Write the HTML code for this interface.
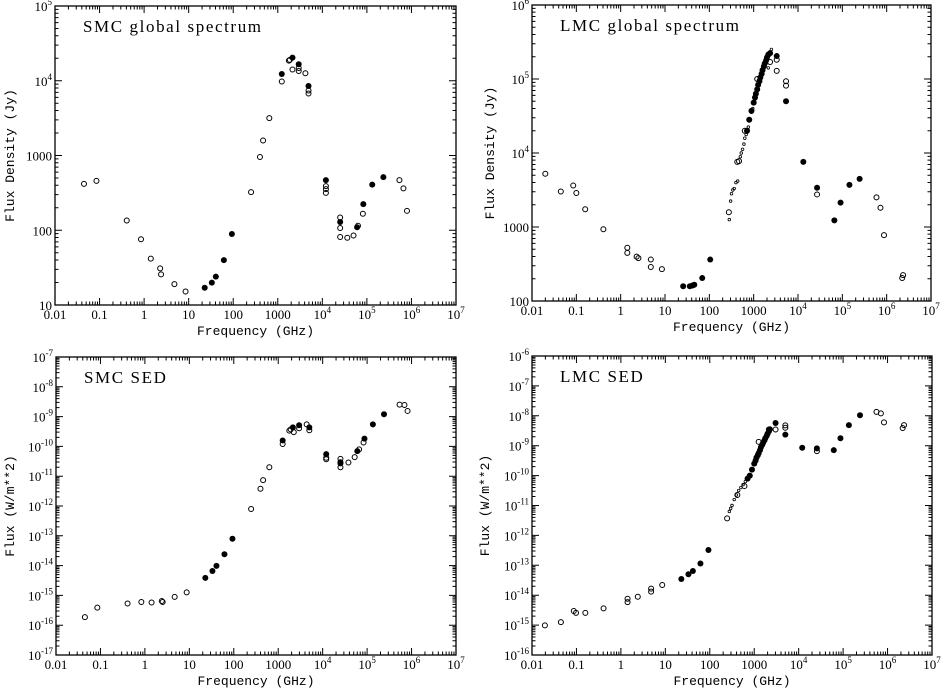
<!DOCTYPE html>
<html><head><meta charset="utf-8"><style>
html,body{margin:0;padding:0;background:#fff;}
svg{display:block;}
text{font-family:"Liberation Serif",serif;fill:#000;}
.mono{font-family:"Liberation Mono",monospace;}
</style></head><body>
<svg id="chart" width="942" height="689" viewBox="0 0 942 689" xmlns="http://www.w3.org/2000/svg"></svg>
<script>
// Data: [log10 frequency (GHz), log10 value]
const smcJyOpen = [[-1.35,2.62],[-1.07,2.66],[-0.39,2.13],[-0.07,1.88],[0.15,1.62],[0.36,1.49],[0.38,1.41],[0.68,1.28],[0.93,1.18],[2.40,2.51],[2.60,2.98],[2.67,3.2],[2.81,3.5],[3.09,3.99],[3.25,4.27],[3.27,4.28],[3.33,4.15],[3.47,4.17],[3.47,4.13],[3.62,4.10],[3.69,3.87],[3.69,3.83],[4.08,2.59],[4.08,2.55],[4.08,2.50],[4.40,2.17],[4.40,2.03],[4.40,1.91],[4.56,1.90],[4.70,1.93],[4.80,2.06],[4.91,2.22],[5.73,2.67],[5.82,2.56],[5.90,2.26]];
const smcJyFilled = [[1.36,1.23],[1.52,1.30],[1.61,1.38],[1.79,1.60],[1.97,1.95],[3.09,4.09],[3.33,4.31],[3.47,4.22],[3.69,3.93],[4.08,2.67],[4.40,2.11],[4.78,2.04],[4.92,2.35],[5.12,2.61],[5.37,2.71]];
const lmcJyOpen = [[-1.70,3.72],[-1.35,3.48],[-1.07,3.56],[-1.00,3.46],[-0.80,3.24],[-0.39,2.97],[0.15,2.72],[0.15,2.65],[0.36,2.60],[0.40,2.58],[0.68,2.56],[0.68,2.46],[0.93,2.43],[2.44,3.20],[2.63,3.88],[2.67,3.89],[2.80,4.30],[3.08,5.00],[3.37,5.23],[3.52,5.26],[3.52,5.11],[3.73,4.97],[3.73,4.91],[4.43,3.44],[5.77,3.40],[5.86,3.26],[5.94,2.89],[6.35,2.31],[6.37,2.35]];
const lmcJyFilled = [[1.41,2.20],[1.56,2.20],[1.62,2.21],[1.66,2.22],[1.84,2.31],[2.02,2.56],[2.85,4.30],[2.90,4.45],[2.95,4.57],[3.00,4.68],[3.03,4.75],[3.05,4.80],[3.08,4.86],[3.10,4.92],[3.13,4.97],[3.15,5.02],[3.18,5.07],[3.20,5.12],[3.23,5.17],[3.25,5.21],[3.28,5.25],[3.30,5.29],[3.33,5.33],[3.37,5.35],[3.52,5.31],[3.73,4.70],[4.12,3.88],[4.43,3.53],[4.82,3.09],[4.96,3.33],[5.16,3.57],[5.39,3.65]];
const lmcJySmall = [[2.45,3.10],[2.48,3.35],[2.50,3.45],[2.53,3.50],[2.56,3.52],[2.60,3.60],[2.64,3.62],[2.70,3.95],[2.72,4.00],[2.75,4.05],[2.78,4.12],[2.80,4.20],[2.83,4.25],[2.85,4.28],[2.88,4.35],[2.92,4.45],[2.95,4.55],[2.98,4.60],[3.02,4.70],[3.07,4.82],[3.12,4.93],[3.17,5.05],[3.22,5.14],[3.28,5.22],[3.33,5.15],[3.40,5.40]];
const smcSedOpen = [[-1.35,-15.73],[-1.07,-15.41],[-0.39,-15.27],[-0.08,-15.22],[0.15,-15.24],[0.38,-15.19],[0.40,-15.22],[0.67,-15.05],[0.94,-14.90],[2.39,-12.10],[2.60,-11.42],[2.66,-11.13],[2.80,-10.70],[3.10,-9.92],[3.25,-9.47],[3.28,-9.43],[3.35,-9.52],[3.47,-9.39],[3.64,-9.26],[3.70,-9.46],[4.08,-10.43],[4.08,-10.38],[4.40,-10.42],[4.40,-10.57],[4.40,-10.70],[4.58,-10.54],[4.72,-10.36],[4.82,-10.10],[4.92,-9.87],[5.73,-8.60],[5.84,-8.61],[5.91,-8.81]];
const smcSedFilled = [[1.36,-14.41],[1.52,-14.18],[1.61,-14.01],[1.79,-13.62],[1.97,-13.10],[3.10,-9.80],[3.33,-9.36],[3.47,-9.29],[3.70,-9.36],[4.08,-10.26],[4.40,-10.53],[4.78,-10.16],[4.94,-9.74],[5.13,-9.26],[5.38,-8.92]];
const lmcSedOpen = [[-1.71,-15.01],[-1.35,-14.90],[-1.06,-14.53],[-1.01,-14.59],[-0.80,-14.59],[-0.39,-14.44],[0.15,-14.12],[0.15,-14.23],[0.38,-14.05],[0.68,-13.78],[0.68,-13.88],[0.93,-13.66],[2.39,-11.43],[2.62,-10.65],[2.78,-10.35],[3.10,-8.87],[3.33,-8.46],[3.48,-8.46],[3.70,-8.40],[3.70,-8.32],[4.41,-9.18],[5.75,-7.87],[5.85,-7.92],[5.92,-8.22],[6.34,-8.41],[6.37,-8.31]];
const lmcSedFilled = [[1.36,-13.46],[1.52,-13.30],[1.62,-13.19],[1.79,-12.94],[1.97,-12.49],[2.85,-10.10],[2.90,-10.00],[2.95,-9.80],[3.00,-9.60],[3.03,-9.50],[3.05,-9.40],[3.08,-9.32],[3.10,-9.25],[3.13,-9.15],[3.15,-9.05],[3.18,-8.97],[3.20,-8.90],[3.23,-8.82],[3.25,-8.75],[3.28,-8.67],[3.30,-8.60],[3.33,-8.52],[3.35,-8.45],[3.48,-8.24],[3.70,-8.63],[4.08,-9.07],[4.41,-9.09],[4.79,-9.15],[4.94,-8.75],[5.13,-8.31],[5.38,-7.98]];
const lmcSedSmall = [[2.44,-11.2],[2.47,-11.1],[2.50,-11.0],[2.55,-10.8],[2.60,-10.65],[2.65,-10.5],[2.70,-10.4],[2.75,-10.3],[2.80,-10.2]];
const xTickLabels = ["0.01","0.1","1","10","100","1000","10^4","10^5","10^6","10^7"];

const NS="http://www.w3.org/2000/svg";
const svg=document.getElementById('chart');
function mk(tag,attrs,parent){const e=document.createElementNS(NS,tag);for(const k in attrs)e.setAttribute(k,attrs[k]);(parent||svg).appendChild(e);return e;}

function label(parent,x,y,str,anchor){
  const t=mk('text',{x:x,y:y,'font-size':13,'text-anchor':anchor},parent);
  if(str.indexOf('^')>=0){
    const p=str.split('^');
    const a=document.createElementNS(NS,'tspan');a.textContent=p[0];t.appendChild(a);
    const b=document.createElementNS(NS,'tspan');b.setAttribute('font-size','9');b.setAttribute('dy','-6');b.textContent=p[1];t.appendChild(b);
  } else t.textContent=str;
  return t;
}

const panels=[
 {name:'smc-global-spectrum',L:55,R:456,T:6,B:305,ymin:1,ymax:5,title:'SMC global spectrum',ytitle:'Flux Density (Jy)',ytx:10,yLabels:['10','100','1000','10^4','10^5'],open:smcJyOpen,filled:smcJyFilled,small:[]},
 {name:'lmc-global-spectrum',L:532,R:931,T:5,B:301,ymin:2,ymax:6,title:'LMC global spectrum',ytitle:'Flux Density (Jy)',ytx:490,yLabels:['100','1000','10^4','10^5','10^6'],open:lmcJyOpen,filled:lmcJyFilled,small:lmcJySmall},
 {name:'smc-sed',L:56,R:456,T:357,B:655,ymin:-17,ymax:-7,title:'SMC SED',ytitle:'Flux (W/m**2)',ytx:10,yLabels:['10^-17','10^-16','10^-15','10^-14','10^-13','10^-12','10^-11','10^-10','10^-9','10^-8','10^-7'],open:smcSedOpen,filled:smcSedFilled,small:[]},
 {name:'lmc-sed',L:532,R:932,T:356,B:655,ymin:-16,ymax:-6,title:'LMC SED',ytitle:'Flux (W/m**2)',ytx:485,yLabels:['10^-16','10^-15','10^-14','10^-13','10^-12','10^-11','10^-10','10^-9','10^-8','10^-7','10^-6'],open:lmcSedOpen,filled:lmcSedFilled,small:lmcSedSmall}
];

panels.forEach(p=>{
  const g=mk('g',{});
  
  
  const xs=v=>p.L+(v+2)/9*(p.R-p.L);
  const ys=v=>p.B-(v-p.ymin)/(p.ymax-p.ymin)*(p.B-p.T);
  const frame=mk('rect',{x:p.L,y:p.T,width:p.R-p.L,height:p.B-p.T,fill:'none',stroke:'#000','stroke-width':1.3},g);
  
  
  let d='';
  for(let dec=-2;dec<=7;dec++){
    const x=xs(dec);
    d+=`M${x},${p.B}v-7M${x},${p.T}v7`;
    if(dec<7)for(let m=2;m<=9;m++){const xm=xs(dec+Math.log10(m));d+=`M${xm},${p.B}v-3.5M${xm},${p.T}v3.5`;}
  }
  for(let dec=p.ymin;dec<=p.ymax;dec++){
    const y=ys(dec);
    d+=`M${p.L},${y}h7M${p.R},${y}h-7`;
    if(dec<p.ymax)for(let m=2;m<=9;m++){const ym=ys(dec+Math.log10(m));d+=`M${p.L},${ym}h3.5M${p.R},${ym}h-3.5`;}
  }
  const ticks=mk('path',{d:d,stroke:'#000','stroke-width':1,fill:'none'},g);
  
  
  xTickLabels.forEach((s,i)=>{
    const t=label(g,xs(i-2),p.B+14,s,'middle');
    
    
  });
  p.yLabels.forEach((s,i)=>{
    const t=label(g,p.L-3,ys(p.ymin+i)+5,s,'end');
    
    
  });
  const xt=mk('text',{x:(p.L+p.R)/2,y:p.B+30,'font-size':13,'text-anchor':'middle','class':'mono'},g);
  xt.textContent='Frequency (GHz)';
  
  
  const cy=(p.T+p.B)/2;
  const yt=mk('text',{x:p.ytx,y:cy,'font-size':13,'text-anchor':'middle','class':'mono',transform:`rotate(-90 ${p.ytx} ${cy}) translate(0 4)`},g);
  yt.textContent=p.ytitle;
  
  
  const tt=mk('text',{x:p.L+28,y:p.T+26,'font-size':17,'letter-spacing':1.6},g);
  tt.textContent=p.title;
  
  
  p.open.forEach(v=>{
    const c=mk('circle',{cx:xs(v[0]),cy:ys(v[1]),r:2.5,fill:'none',stroke:'#000','stroke-width':1},g);
    
    
  });
  p.filled.forEach(v=>{
    const c=mk('circle',{cx:xs(v[0]),cy:ys(v[1]),r:3,fill:'#000'},g);
    
    
  });
  p.small.forEach(v=>{
    const c=mk('circle',{cx:xs(v[0]),cy:ys(v[1]),r:1.3,fill:'none',stroke:'#000','stroke-width':0.8},g);
    
    
  });
});
</script>
</body></html>
